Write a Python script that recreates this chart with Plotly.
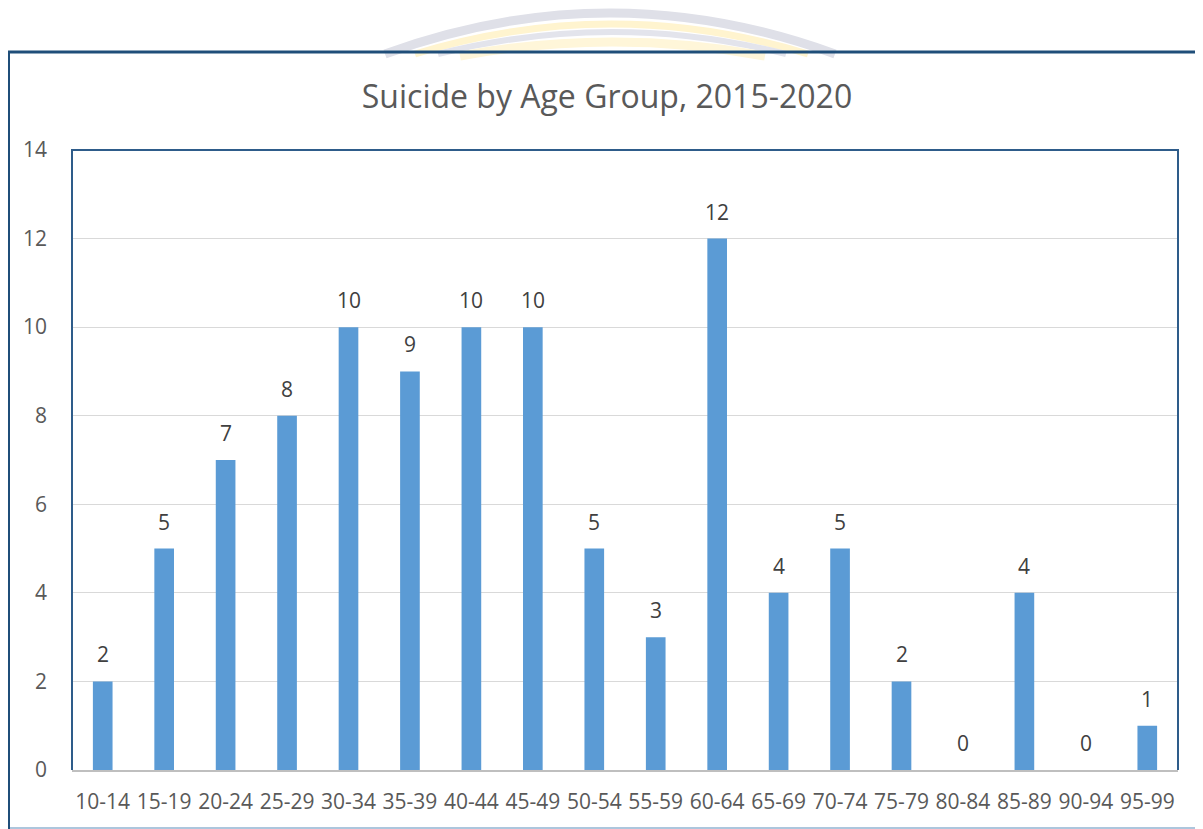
import plotly.graph_objects as go

age_groups = ["10-14", "15-19", "20-24", "25-29", "30-34", "35-39", "40-44", "45-49",
              "50-54", "55-59", "60-64", "65-69", "70-74", "75-79", "80-84", "85-89",
              "90-94", "95-99"]
suicides = [2, 5, 7, 8, 10, 9, 10, 10, 5, 3, 12, 4, 5, 2, 0, 4, 0, 1]
title_text = "Suicide by Age Group, 2015-2020"

OFF = 8  # page body margin
W, H = 1203 - OFF, 829 - OFF
# plot area in page pixels
L, R, T, B = 72, 1178, 150, 770

def px(x):
    return (x - L) / (R - L)

def py(y):
    return (B - y) / (B - T)

FONT = "Open Sans, Liberation Sans, sans-serif"

fig = go.Figure()
fig.add_trace(go.Bar(
    x=age_groups, y=suicides,
    marker=dict(color="#5b9bd5", line=dict(width=0)),
    width=0.32,
    hoverinfo="x+y",
))

for cat, v in zip(age_groups, suicides):
    fig.add_annotation(x=cat, y=v, text=str(v), showarrow=False,
                       yanchor="bottom", yshift=11,
                       font=dict(family=FONT, size=21, color="#404040"))

shapes = []

def arc(x0, x1, ytop, ybase, color, width):
    xm = (x0 + x1) / 2
    return dict(type="path", xref="paper", yref="paper",
                path=f"M {px(x0)},{py(ybase)} Q {px(xm)},{py(2*ytop-ybase)} {px(x1)},{py(ybase)}",
                line=dict(color=color, width=width), layer="below")

# faint watermark arcs
shapes.append(arc(385, 835, 13, 54, "#dfe0e8", 9))
shapes.append(arc(415, 808, 24, 54, "#fff4cf", 7))
shapes.append(arc(438, 786, 32, 54, "#e3e4ec", 6))
shapes.append(arc(460, 765, 42, 56, "#fff6d9", 9))

# outer frame lines
shapes.append(dict(type="line", xref="paper", yref="paper",
                   x0=px(6), x1=px(1205), y0=py(52), y1=py(52),
                   line=dict(color="#1f4e79", width=3)))
shapes.append(dict(type="line", xref="paper", yref="paper",
                   x0=px(8), x1=px(8), y0=py(51), y1=py(832),
                   line=dict(color="#1f4e79", width=4)))
shapes.append(dict(type="line", xref="paper", yref="paper",
                   x0=px(10), x1=px(1205), y0=py(828), y1=py(828),
                   line=dict(color="#adc6dd", width=2)))
# plot border (top, left, right)
shapes.append(dict(type="path", xref="paper", yref="paper",
                   path="M 0,0 L 0,1 L 1,1 L 1,0",
                   line=dict(color="#2e5c8a", width=2)))

fig.update_layout(
    width=W, height=H,
    margin=dict(l=L - OFF, r=(1203 - R), t=T - OFF, b=(829 - B)),
    paper_bgcolor="white", plot_bgcolor="white",
    title=dict(text=title_text, x=(607 - OFF) / W, xanchor="center",
               y=1 - (97 - OFF) / H, yanchor="middle",
               font=dict(family=FONT, size=32, color="#595959")),
    showlegend=False,
    shapes=shapes,
    bargap=0.68,
)
fig.update_xaxes(
    showline=True, linecolor="#bfbfbf", linewidth=2,
    ticks="", ticklabelstandoff=12,
    tickfont=dict(family=FONT, size=21, color="#595959"),
    showgrid=False, fixedrange=True,
)
fig.update_yaxes(
    range=[0, 14], dtick=2, tick0=0,
    showgrid=True, gridcolor="#d9d9d9", gridwidth=1,
    zeroline=False, showline=False,
    ticks="", ticklabelstandoff=24,
    tickfont=dict(family=FONT, size=21, color="#595959"),
    fixedrange=True,
)

fig.write_html("out.html")
